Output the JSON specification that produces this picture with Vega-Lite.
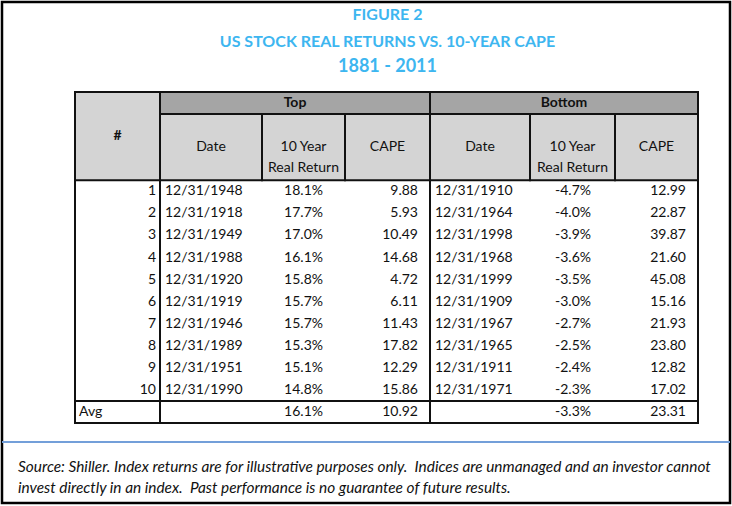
{
  "$schema": "https://vega.github.io/schema/vega-lite/v6.json",
  "width": 728,
  "height": 501,
  "padding": {"left": 2, "top": 2, "right": 2, "bottom": 2},
  "autosize": {"type": "none"},
  "background": "white",
  "config": {
    "view": {"stroke": "#000000", "strokeWidth": 2.5},
    "text": {"font": "Lato", "fontSize": 14, "color": "#111111", "baseline": "middle"},
    "locale": {"number": {"decimal": ".", "thousands": ",", "grouping": [3], "currency": ["$", ""], "minus": "-"}}
  },
  "datasets": {
    "rows": [
      {"rank": "1", "side": "Top", "date": "12/31/1948", "ret": 0.181, "cape": 9.88},
      {"rank": "2", "side": "Top", "date": "12/31/1918", "ret": 0.177, "cape": 5.93},
      {"rank": "3", "side": "Top", "date": "12/31/1949", "ret": 0.170, "cape": 10.49},
      {"rank": "4", "side": "Top", "date": "12/31/1988", "ret": 0.161, "cape": 14.68},
      {"rank": "5", "side": "Top", "date": "12/31/1920", "ret": 0.158, "cape": 4.72},
      {"rank": "6", "side": "Top", "date": "12/31/1919", "ret": 0.157, "cape": 6.11},
      {"rank": "7", "side": "Top", "date": "12/31/1946", "ret": 0.157, "cape": 11.43},
      {"rank": "8", "side": "Top", "date": "12/31/1989", "ret": 0.153, "cape": 17.82},
      {"rank": "9", "side": "Top", "date": "12/31/1951", "ret": 0.151, "cape": 12.29},
      {"rank": "10", "side": "Top", "date": "12/31/1990", "ret": 0.148, "cape": 15.86},
      {"rank": "Avg", "side": "Top", "ret": 0.161, "cape": 10.92},
      {"rank": "1", "side": "Bottom", "date": "12/31/1910", "ret": -0.047, "cape": 12.99},
      {"rank": "2", "side": "Bottom", "date": "12/31/1964", "ret": -0.040, "cape": 22.87},
      {"rank": "3", "side": "Bottom", "date": "12/31/1998", "ret": -0.039, "cape": 39.87},
      {"rank": "4", "side": "Bottom", "date": "12/31/1968", "ret": -0.036, "cape": 21.60},
      {"rank": "5", "side": "Bottom", "date": "12/31/1999", "ret": -0.035, "cape": 45.08},
      {"rank": "6", "side": "Bottom", "date": "12/31/1909", "ret": -0.030, "cape": 15.16},
      {"rank": "7", "side": "Bottom", "date": "12/31/1967", "ret": -0.027, "cape": 21.93},
      {"rank": "8", "side": "Bottom", "date": "12/31/1965", "ret": -0.025, "cape": 23.80},
      {"rank": "9", "side": "Bottom", "date": "12/31/1911", "ret": -0.024, "cape": 12.82},
      {"rank": "10", "side": "Bottom", "date": "12/31/1971", "ret": -0.023, "cape": 17.02},
      {"rank": "Avg", "side": "Bottom", "ret": -0.033, "cape": 23.31}
    ],
    "headers": [
      {"label": "#", "level": "corner"},
      {"label": "Top", "level": "group", "side": "Top"},
      {"label": "Bottom", "level": "group", "side": "Bottom"},
      {"label": "Date", "level": "column", "col": 1},
      {"label": "10 Year\nReal Return", "level": "column", "col": 2},
      {"label": "CAPE", "level": "column", "col": 3},
      {"label": "Date", "level": "column", "col": 4},
      {"label": "10 Year\nReal Return", "level": "column", "col": 5},
      {"label": "CAPE", "level": "column", "col": 6}
    ],
    "shading": [
      {"part": "corner", "c0": 0, "c1": 1, "r0": 0, "r1": 4},
      {"part": "group header", "c0": 1, "c1": 7, "r0": 0, "r1": 1},
      {"part": "column header", "c0": 1, "c1": 7, "r0": 1, "r1": 4}
    ],
    "vlines": [
      {"c": 0, "r0": 0, "r1": 15},
      {"c": 1, "r0": 0, "r1": 15},
      {"c": 4, "r0": 0, "r1": 15},
      {"c": 7, "r0": 0, "r1": 15},
      {"c": 2, "r0": 1, "r1": 4},
      {"c": 3, "r0": 1, "r1": 4},
      {"c": 5, "r0": 1, "r1": 4},
      {"c": 6, "r0": 1, "r1": 4}
    ],
    "hlines": [
      {"r": 0, "c0": 0, "c1": 7},
      {"r": 1, "c0": 1, "c1": 7},
      {"r": 4, "c0": 0, "c1": 7},
      {"r": 14, "c0": 0, "c1": 7},
      {"r": 15, "c0": 0, "c1": 7}
    ],
    "titles": [
      {"line": 1, "text": "FIGURE 2"},
      {"line": 2, "text": "US STOCK REAL RETURNS VS. 10-YEAR CAPE"},
      {"line": 3, "text": "1881 - 2011"}
    ],
    "notes": [
      {"line": 1, "text": "Source: Shiller. Index returns are for illustrative purposes only.\u00a0 Indices are unmanaged and an investor cannot"},
      {"line": 2, "text": "invest directly in an index.\u00a0 Past performance is no guarantee of future results."}
    ]
  },
  "resolve": {"scale": {"x": "independent", "y": "independent", "color": "independent"}},
  "layer": [
    {
      "data": {"name": "shading"},
      "mark": {"type": "rect"},
      "encoding": {
        "x": {"field": "c0", "type": "quantitative", "axis": null, "scale": {"type": "linear", "domain": [-1, 0, 1, 2, 3, 4, 5, 6, 7, 8], "range": [16, 73, 158, 260, 343, 428, 528, 613, 696, 728], "nice": false, "zero": false}},
        "x2": {"field": "c1"},
        "y": {"field": "r0", "type": "quantitative", "axis": null, "scale": {"type": "linear", "domain": [0, 15], "range": [90, 421], "nice": false, "zero": false}},
        "y2": {"field": "r1"},
        "color": {"field": "part", "type": "nominal", "legend": null, "scale": {"domain": ["corner", "group header", "column header"], "range": ["#D4D4D4", "#A5A5A5", "#D4D4D4"]}}
      }
    },
    {
      "data": {"name": "vlines"},
      "mark": {"type": "rule", "color": "#111111", "strokeWidth": 2, "strokeCap": "square"},
      "encoding": {
        "x": {"field": "c", "type": "quantitative", "axis": null, "scale": {"type": "linear", "domain": [-1, 0, 1, 2, 3, 4, 5, 6, 7, 8], "range": [16, 73, 158, 260, 343, 428, 528, 613, 696, 728], "nice": false, "zero": false}},
        "y": {"field": "r0", "type": "quantitative", "axis": null, "scale": {"type": "linear", "domain": [0, 15], "range": [90, 421], "nice": false, "zero": false}},
        "y2": {"field": "r1"}
      }
    },
    {
      "data": {"name": "hlines"},
      "mark": {"type": "rule", "color": "#111111", "strokeWidth": 2, "strokeCap": "square"},
      "encoding": {
        "y": {"field": "r", "type": "quantitative", "axis": null, "scale": {"type": "linear", "domain": [0, 15], "range": [90, 421], "nice": false, "zero": false}},
        "x": {"field": "c0", "type": "quantitative", "axis": null, "scale": {"type": "linear", "domain": [-1, 0, 1, 2, 3, 4, 5, 6, 7, 8], "range": [16, 73, 158, 260, 343, 428, 528, 613, 696, 728], "nice": false, "zero": false}},
        "x2": {"field": "c1"}
      }
    },
    {
      "data": {"name": "headers"},
      "transform": [{"filter": "datum.level == 'corner'"}],
      "mark": {"type": "text", "fontWeight": "bold", "align": "center"},
      "encoding": {
        "x": {"datum": 0.5, "type": "quantitative", "axis": null, "scale": {"type": "linear", "domain": [-1, 0, 1, 2, 3, 4, 5, 6, 7, 8], "range": [16, 73, 158, 260, 343, 428, 528, 613, 696, 728], "nice": false, "zero": false}},
        "y": {"datum": 2, "type": "quantitative", "axis": null, "scale": {"type": "linear", "domain": [0, 15], "range": [90, 421], "nice": false, "zero": false}},
        "text": {"field": "label"}
      }
    },
    {
      "data": {"name": "headers"},
      "transform": [{"filter": "datum.level == 'group'"}],
      "mark": {"type": "text", "fontWeight": "bold", "align": "center"},
      "encoding": {
        "x": {"field": "side", "type": "nominal", "axis": null, "scale": {"type": "point", "domain": ["Top", "Bottom"], "range": [293, 562], "padding": 0}},
        "y": {"datum": 0.5, "type": "quantitative", "axis": null, "scale": {"type": "linear", "domain": [0, 15], "range": [90, 421], "nice": false, "zero": false}},
        "text": {"field": "label"}
      }
    },
    {
      "data": {"name": "headers"},
      "transform": [{"filter": "datum.level == 'column'"}],
      "mark": {"type": "text", "align": "center", "lineBreak": "\n", "lineHeight": 21},
      "encoding": {
        "x": {"field": "col", "type": "quantitative", "axis": null, "scale": {"type": "linear", "domain": [1, 2, 3, 4, 5, 6], "range": [209, 301.5, 385.5, 478, 570.5, 654.5], "nice": false, "zero": false}},
        "y": {"datum": 2.5, "type": "quantitative", "axis": null, "scale": {"type": "linear", "domain": [0, 15], "range": [90, 421], "nice": false, "zero": false}},
        "text": {"field": "label"}
      }
    },
    {
      "data": {"name": "rows"},
      "transform": [{"filter": "datum.side == 'Top' && datum.rank != 'Avg'"}],
      "mark": {"type": "text", "align": "right", "dx": -4},
      "encoding": {
        "x": {"datum": 1, "type": "quantitative", "axis": null, "scale": {"type": "linear", "domain": [-1, 0, 1, 2, 3, 4, 5, 6, 7, 8], "range": [16, 73, 158, 260, 343, 428, 528, 613, 696, 728], "nice": false, "zero": false}},
        "y": {"field": "rank", "type": "ordinal", "axis": null, "scale": {"type": "band", "domain": ["h1", "h2a", "h2b", "h2c", "1", "2", "3", "4", "5", "6", "7", "8", "9", "10", "Avg"], "range": [90, 421], "paddingInner": 0, "paddingOuter": 0}},
        "text": {"field": "rank"}
      }
    },
    {
      "data": {"name": "rows"},
      "transform": [{"filter": "datum.side == 'Top' && datum.rank == 'Avg'"}],
      "mark": {"type": "text", "align": "left", "dx": 4},
      "encoding": {
        "x": {"datum": 0, "type": "quantitative", "axis": null, "scale": {"type": "linear", "domain": [-1, 0, 1, 2, 3, 4, 5, 6, 7, 8], "range": [16, 73, 158, 260, 343, 428, 528, 613, 696, 728], "nice": false, "zero": false}},
        "y": {"field": "rank", "type": "ordinal", "axis": null, "scale": {"type": "band", "domain": ["h1", "h2a", "h2b", "h2c", "1", "2", "3", "4", "5", "6", "7", "8", "9", "10", "Avg"], "range": [90, 421], "paddingInner": 0, "paddingOuter": 0}},
        "text": {"field": "rank"}
      }
    },
    {
      "data": {"name": "rows"},
      "transform": [{"filter": "isValid(datum.date)"}],
      "mark": {"type": "text", "align": "left"},
      "encoding": {
        "x": {"field": "side", "type": "nominal", "axis": null, "scale": {"type": "point", "domain": ["Top", "Bottom"], "range": [163, 433], "padding": 0}},
        "y": {"field": "rank", "type": "ordinal", "axis": null, "scale": {"type": "band", "domain": ["h1", "h2a", "h2b", "h2c", "1", "2", "3", "4", "5", "6", "7", "8", "9", "10", "Avg"], "range": [90, 421], "paddingInner": 0, "paddingOuter": 0}},
        "text": {"field": "date"}
      }
    },
    {
      "data": {"name": "rows"},
      "mark": {"type": "text", "align": "right"},
      "encoding": {
        "x": {"field": "side", "type": "nominal", "axis": null, "scale": {"type": "point", "domain": ["Top", "Bottom"], "range": [321, 589], "padding": 0}},
        "y": {"field": "rank", "type": "ordinal", "axis": null, "scale": {"type": "band", "domain": ["h1", "h2a", "h2b", "h2c", "1", "2", "3", "4", "5", "6", "7", "8", "9", "10", "Avg"], "range": [90, 421], "paddingInner": 0, "paddingOuter": 0}},
        "text": {"field": "ret", "type": "quantitative", "format": ".1%"}
      }
    },
    {
      "data": {"name": "rows"},
      "mark": {"type": "text", "align": "right"},
      "encoding": {
        "x": {"field": "side", "type": "nominal", "axis": null, "scale": {"type": "point", "domain": ["Top", "Bottom"], "range": [416, 684], "padding": 0}},
        "y": {"field": "rank", "type": "ordinal", "axis": null, "scale": {"type": "band", "domain": ["h1", "h2a", "h2b", "h2c", "1", "2", "3", "4", "5", "6", "7", "8", "9", "10", "Avg"], "range": [90, 421], "paddingInner": 0, "paddingOuter": 0}},
        "text": {"field": "cape", "type": "quantitative", "format": ".2f"}
      }
    },
    {
      "data": {"name": "titles"},
      "mark": {"type": "text", "align": "center", "fontWeight": "bold", "color": "#3DB6F0", "fontSize": {"expr": "datum.line == 3 ? 18 : 16"}},
      "encoding": {
        "x": {"datum": 3.5, "type": "quantitative", "axis": null, "scale": {"type": "linear", "domain": [-1, 0, 1, 2, 3, 4, 5, 6, 7, 8], "range": [16, 73, 158, 260, 343, 428, 528, 613, 696, 728], "nice": false, "zero": false}},
        "y": {"field": "line", "type": "quantitative", "axis": null, "scale": {"type": "linear", "domain": [1, 2, 3], "range": [13, 40, 65], "nice": false, "zero": false}},
        "text": {"field": "text"}
      }
    },
    {
      "data": {"name": "notes"},
      "mark": {"type": "text", "align": "left", "fontStyle": "italic", "fontSize": 15.4},
      "encoding": {
        "x": {"datum": -1, "type": "quantitative", "axis": null, "scale": {"type": "linear", "domain": [-1, 0, 1, 2, 3, 4, 5, 6, 7, 8], "range": [16, 73, 158, 260, 343, 428, 528, 613, 696, 728], "nice": false, "zero": false}},
        "y": {"field": "line", "type": "quantitative", "axis": null, "scale": {"type": "linear", "domain": [0, 1, 2], "range": [440, 465, 486], "nice": false, "zero": false}},
        "text": {"field": "text"}
      }
    },
    {
      "data": {"name": "notes"},
      "transform": [{"filter": "datum.line == 1"}],
      "mark": {"type": "rule", "color": "#739FD9", "strokeWidth": 2},
      "encoding": {
        "y": {"datum": 0, "type": "quantitative", "axis": null, "scale": {"type": "linear", "domain": [0, 1, 2], "range": [440, 465, 486], "nice": false, "zero": false}}
      }
    }
  ]
}
